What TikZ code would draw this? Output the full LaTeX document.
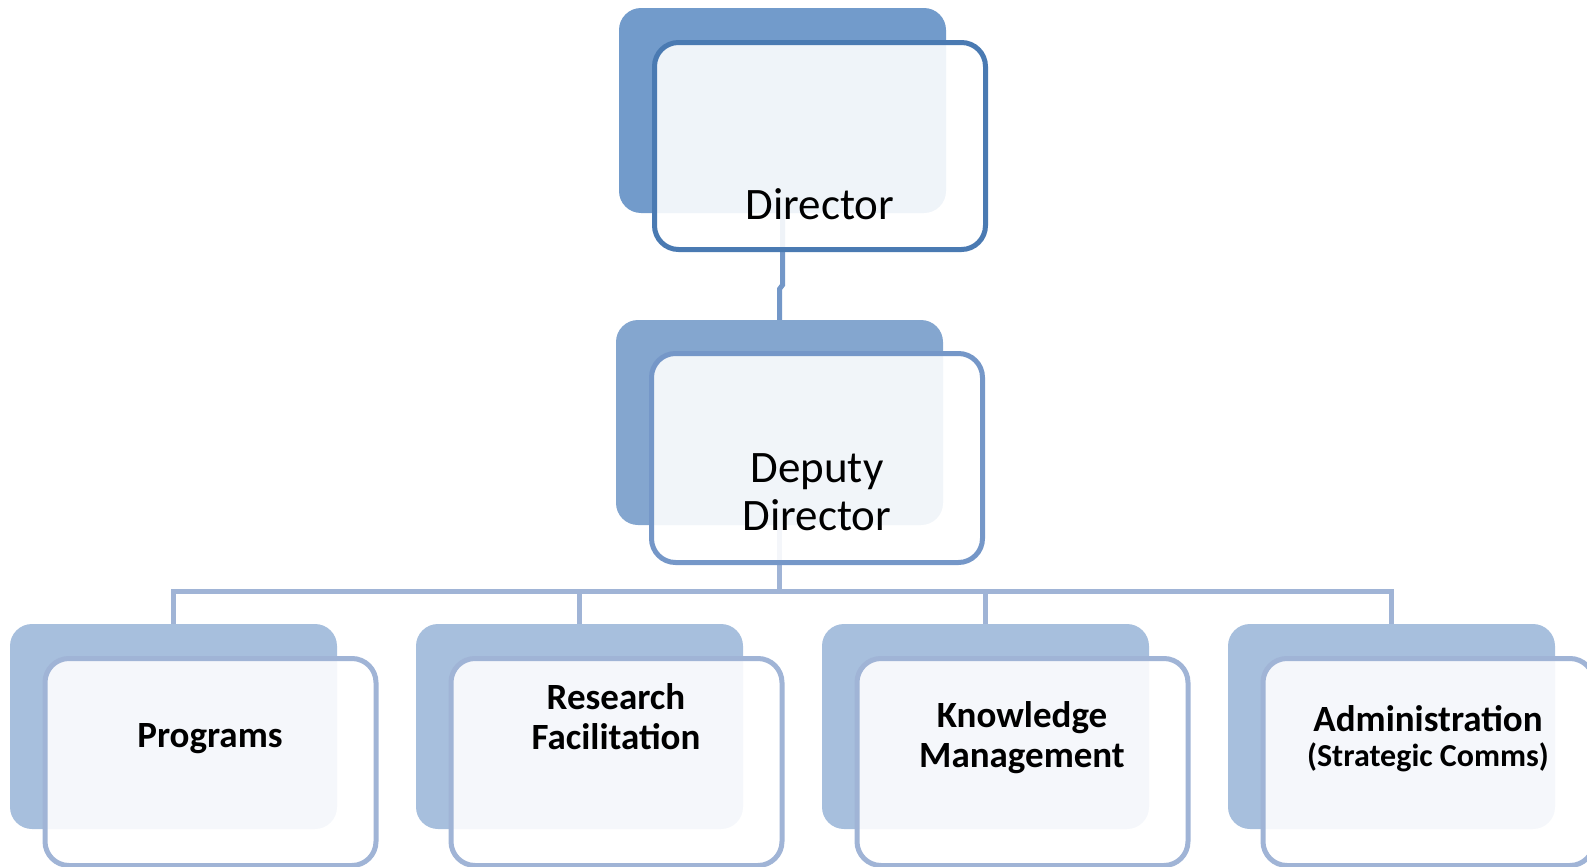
\documentclass[tikz,border=0pt]{standalone}
\usepackage{fontspec}
\setmainfont{Carlito}
\usetikzlibrary{backgrounds}
\definecolor{dirback}{RGB}{114,155,203}
\definecolor{dirline}{RGB}{74,122,178}
\definecolor{dirlink}{RGB}{115,151,200}
\definecolor{depback}{RGB}{132,166,207}
\definecolor{depline}{RGB}{117,151,200}
\definecolor{unitback}{RGB}{167,191,221}
\definecolor{unitline}{RGB}{160,180,214}
\newcommand{\commsfont}{\fontsize{16}{17.5}\selectfont}
\begin{document}
\begin{tikzpicture}
[x=0.5pt,y=-0.5pt,
 backdecorate/.style={shape=rectangle,rounded corners=11pt,inner sep=0pt,
   minimum width=163.5pt,minimum height=102.5pt,fill=#1},
 frontdecorate/.style={shape=rectangle,rounded corners=12pt,inner sep=0pt,
   minimum width=165.5pt,minimum height=103.5pt,line width=2.5pt,draw=#1,
   fill=white,fill opacity=0.89},
 toptext/.style={font=\fontsize{22.5}{24}\selectfont,align=center,inner sep=0pt},
 unittext/.style={font=\bfseries\fontsize{18.5}{20}\selectfont,align=center,inner sep=0pt},
 linkdecorate/.style={line width=2.5pt,draw=#1}]
\useasboundingbox (0,0) rectangle (1587,867);
%% director and deputy
\node (dir-back) at (782.5,110.5) [backdecorate=dirback] {};
\node (dir-front) at (820,146) [frontdecorate=dirline] {};
\node (dir-text) at (820,219) [anchor=base,toptext] {Director};
\node (dep-back) at (779.5,422.5) [backdecorate=depback] {};
\node (dep-front) at (817,458) [frontdecorate=depline,minimum height=104.5pt] {};
\node (dep-text) at (817,530) [anchor=base,toptext] {Deputy\\Director};
%% units (base is the last line)
\foreach \nodename/\k/\ytext/\unitname in {
  prog/0/747/{Programs}, res/1/749/{Research\\Facilitation},
  know/2/767/{Knowledge\\Management},
  admin/3/766/{Administration\\[-2.5pt]{\commsfont (Strategic Comms)}}} {
  \node (\nodename-back) at (173.5+406*\k,726.5) [backdecorate=unitback] {};
  \node (\nodename-front) at (210.5+406*\k,762) [frontdecorate=unitline] {};
  \node (\nodename-text) at (210+406*\k,\ytext) [anchor=base,unittext] {\unitname};
}
%% links
\coordinate (jogtop) at (0,285);
\coordinate (jogbot) at (0,289);
\coordinate (bar) at (0,591);
\begin{pgfonlayer}{background}
\draw[linkdecorate=dirlink] (dir-back.center) -- (dir-back.center |- jogtop)
  -- (dep-back.center |- jogbot) -- (dep-back.center);
\draw[linkdecorate=unitline] (dep-back.center) -- (dep-back.center |- bar);
\draw[linkdecorate=unitline] (prog-back.north) -- (prog-back.north |- bar)
  -- (admin-back.north |- bar) -- (admin-back.north);
\foreach \nodename in {res,know}
  \draw[linkdecorate=unitline] (\nodename-back.north) -- (\nodename-back.north |- bar);
\end{pgfonlayer}
\end{tikzpicture}
\end{document}
